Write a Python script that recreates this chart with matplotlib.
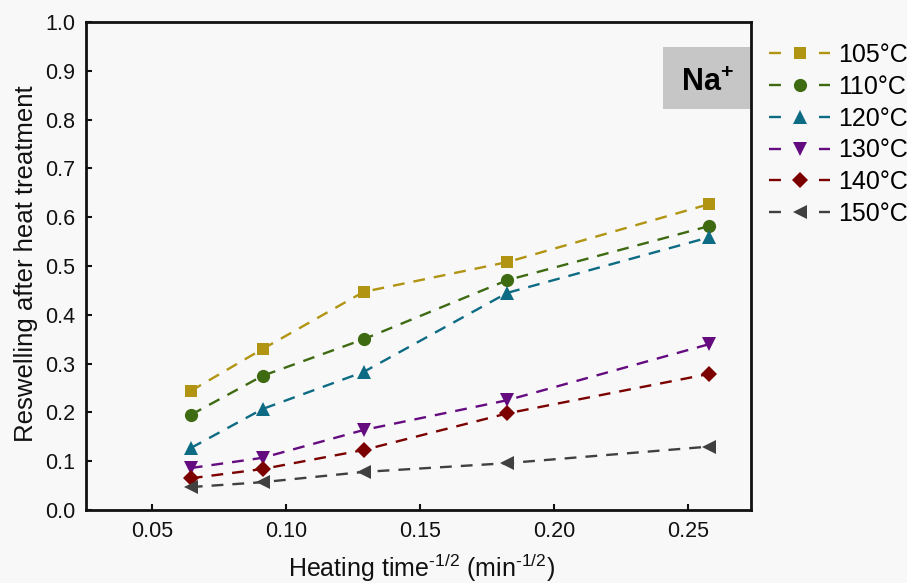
import matplotlib
matplotlib.use("Agg")
import matplotlib.pyplot as plt
from matplotlib.lines import Line2D
from matplotlib.patches import Rectangle
import numpy as np

plt.rcParams['font.family'] = ['Liberation Sans', 'DejaVu Sans']
plt.rcParams['mathtext.default'] = 'regular'
plt.rcParams['lines.scale_dashes'] = False

# heating times 240, 120, 60, 30, 15 min -> t^-1/2
heating_x = [0.0645, 0.0913, 0.129, 0.1826, 0.258]

labels = ['105°C', '110°C', '120°C', '130°C', '140°C', '150°C']
r105 = [0.244, 0.330, 0.447, 0.508, 0.627]
r110 = [0.195, 0.275, 0.350, 0.471, 0.582]
r120 = [0.127, 0.207, 0.283, 0.445, 0.559]
r130 = [0.086, 0.107, 0.164, 0.225, 0.340]
r140 = [0.065, 0.084, 0.123, 0.198, 0.279]
r150 = [0.047, 0.057, 0.078, 0.096, 0.130]
series = [r105, r110, r120, r130, r140, r150]

colors = ['#B09412', '#3E6B12', '#0E6B84', '#650B80', '#7B0000', '#404040']
markers = ['s', 'o', '^', 'v', 'D', '<']
msizes = [8.5, 9.5, 10, 10, 8.5, 10]

xticks = [0.05, 0.10, 0.15, 0.20, 0.25]
yticks = [0.0, 0.1, 0.2, 0.3, 0.4, 0.5, 0.6, 0.7, 0.8, 0.9, 1.0]

bg = '#f8f8f8'
fig = plt.figure(figsize=(9.07, 5.83), dpi=100, facecolor=bg)
ax = fig.add_axes([86/907, 1-510/583, (751-86)/907, (510-22)/583], facecolor=bg)

for y, c, m, ms in zip(series, colors, markers, msizes):
    ax.plot(heating_x, y, color=c, marker=m, markersize=ms, linewidth=1.7,
            dashes=(8.5, 6.5), markeredgewidth=0)

ax.set_xlim(0.0254, 0.2735)
ax.set_ylim(0, 1.0)
ax.set_xticks(xticks)
ax.set_xticklabels([f'{v:.2f}' for v in xticks])
ax.set_yticks(yticks)
ax.set_yticklabels([f'{v:.1f}' for v in yticks])
ax.tick_params(direction='in', length=4.5, width=1.5, labelsize=15.5, colors='#111111')
ax.tick_params(axis='x', pad=8)
ax.tick_params(axis='y', pad=8)
for s in ax.spines.values():
    s.set_linewidth(2)
    s.set_color('#111111')

# Na+ box
ax.add_patch(Rectangle((0.2407, 0.822), 0.2735-0.2407, 0.949-0.822,
                       facecolor='#c6c6c6', edgecolor='none', zorder=1))
ax.text(0.2572, 0.875, 'Na$^{+}$', fontsize=22, fontweight='bold',
        ha='center', va='center', zorder=2)

fig.text(26/907, 1-263.5/583, 'Reswelling after heat treatment', rotation=90,
         ha='center', va='center', fontsize=18.5, color='#111111')
fig.text(421/907, 6/583, 'Heating time$^{\u2010 1/2}$ (min$^{\u2010 1/2}$)', ha='center',
         va='baseline', fontsize=18, color='#111111')

handles = [Line2D([], [], color=c, marker=m, markersize=ms, linewidth=1.7,
                  dashes=(8.6, 27.4), markeredgewidth=0)
           for c, m, ms in zip(colors, markers, msizes)]
fig.legend(handles, labels, loc='upper left', bbox_to_anchor=(769/907, 1-43/583),
           frameon=False, fontsize=18, handlelength=2.45, handletextpad=0.3,
           labelspacing=0.31, borderpad=0, borderaxespad=0, numpoints=1)

fig.savefig('out.png', dpi=100, facecolor=bg)
